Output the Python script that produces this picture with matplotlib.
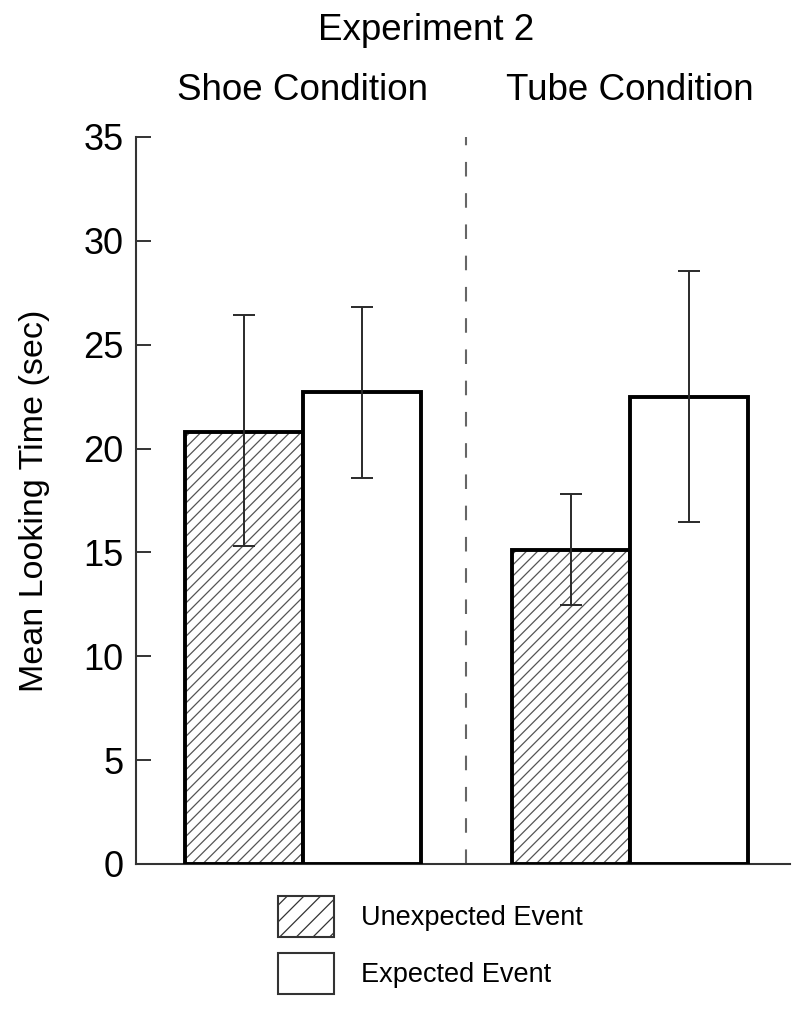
import matplotlib
matplotlib.use("Agg")
from matplotlib import pyplot as plt
from matplotlib.patches import Patch
import matplotlib.transforms as mtransforms
import numpy as np

plt.rcParams['font.family'] = ['Liberation Sans', 'DejaVu Sans']
plt.rcParams['hatch.linewidth'] = 0.9

condicoes = ["Shoe Condition", "Tube Condition"]
series = ["Unexpected Event", "Expected Event"]
inesperado = [20.8, 15.1]
esperado = [22.7, 22.5]
inesperado_lo = [15.3, 12.45]
inesperado_hi = [26.45, 17.8]
esperado_lo = [18.6, 16.45]
esperado_hi = [26.8, 28.55]
y_ticks = [0, 5, 10, 15, 20, 25, 30, 35]

fig = plt.figure(figsize=(8, 10.1), dpi=100)
ax = fig.add_axes([0.17, 0.1446, 0.8175, 0.7198])

centros = np.array([0, 2.775])
largura = 1.0
x_inesp = centros - largura / 2
x_esp = centros + largura / 2

# hatch drawn in gray, outline in black on top
ax.bar(x_inesp, inesperado, largura, color='white', edgecolor='#555555',
       hatch='///', linewidth=0, zorder=2)
ax.bar(x_inesp, inesperado, largura, fill=False, edgecolor='black',
       linewidth=2.8, zorder=3)
ax.bar(x_esp, esperado, largura, color='white', edgecolor='black',
       linewidth=2.8, zorder=3)

inesp = np.array(inesperado)
esp = np.array(esperado)
err_inesp = [inesp - np.array(inesperado_lo), np.array(inesperado_hi) - inesp]
err_esp = [esp - np.array(esperado_lo), np.array(esperado_hi) - esp]
ax.errorbar(x_inesp, inesp, yerr=err_inesp, fmt='none', ecolor='#2a2a2a',
            elinewidth=1.4, capsize=8, capthick=1.4, zorder=4)
ax.errorbar(x_esp, esp, yerr=err_esp, fmt='none', ecolor='#2a2a2a',
            elinewidth=1.4, capsize=8, capthick=1.4, zorder=4)

ax.axvline(centros.mean(), color='#666666', linewidth=1.5,
           dashes=(7, 8), zorder=1)

ax.set_xlim(-1.413, 4.13)
ax.set_ylim(0, 35)
ax.set_yticks(y_ticks)
ax.set_xticks([])
ax.tick_params(axis='y', direction='in', length=11, width=1.4,
               color='#333333', labelsize=26, pad=9)
for s in ['top', 'right']:
    ax.spines[s].set_visible(False)
for s in ['left', 'bottom']:
    ax.spines[s].set_linewidth(1.5)
    ax.spines[s].set_color('#333333')

ax.set_ylabel("Mean Looking Time (sec)", fontsize=24.5, labelpad=24)

trans = mtransforms.blended_transform_factory(ax.transData, fig.transFigure)
for c, nome in zip(centros, condicoes):
    ax.text(c, 1 - 90 / 1010, nome, transform=trans, ha='center',
            va='center', fontsize=26.5)
fig.text(426 / 800, 1 - 30 / 1010, "Experiment 2", ha='center',
         va='center', fontsize=26.5)

handles = [Patch(facecolor='white', edgecolor='#333333', hatch='//',
                 linewidth=1.5),
           Patch(facecolor='white', edgecolor='#333333', linewidth=1.5)]
fig.legend(handles, series, loc='upper left',
           bbox_to_anchor=(278 / 800, 1 - 896 / 1010), frameon=False,
           fontsize=19.5, handlelength=2.05, handleheight=1.95,
           handletextpad=1.0, labelspacing=0.6, borderpad=0,
           borderaxespad=0)

fig.savefig("out.png", dpi=100)
